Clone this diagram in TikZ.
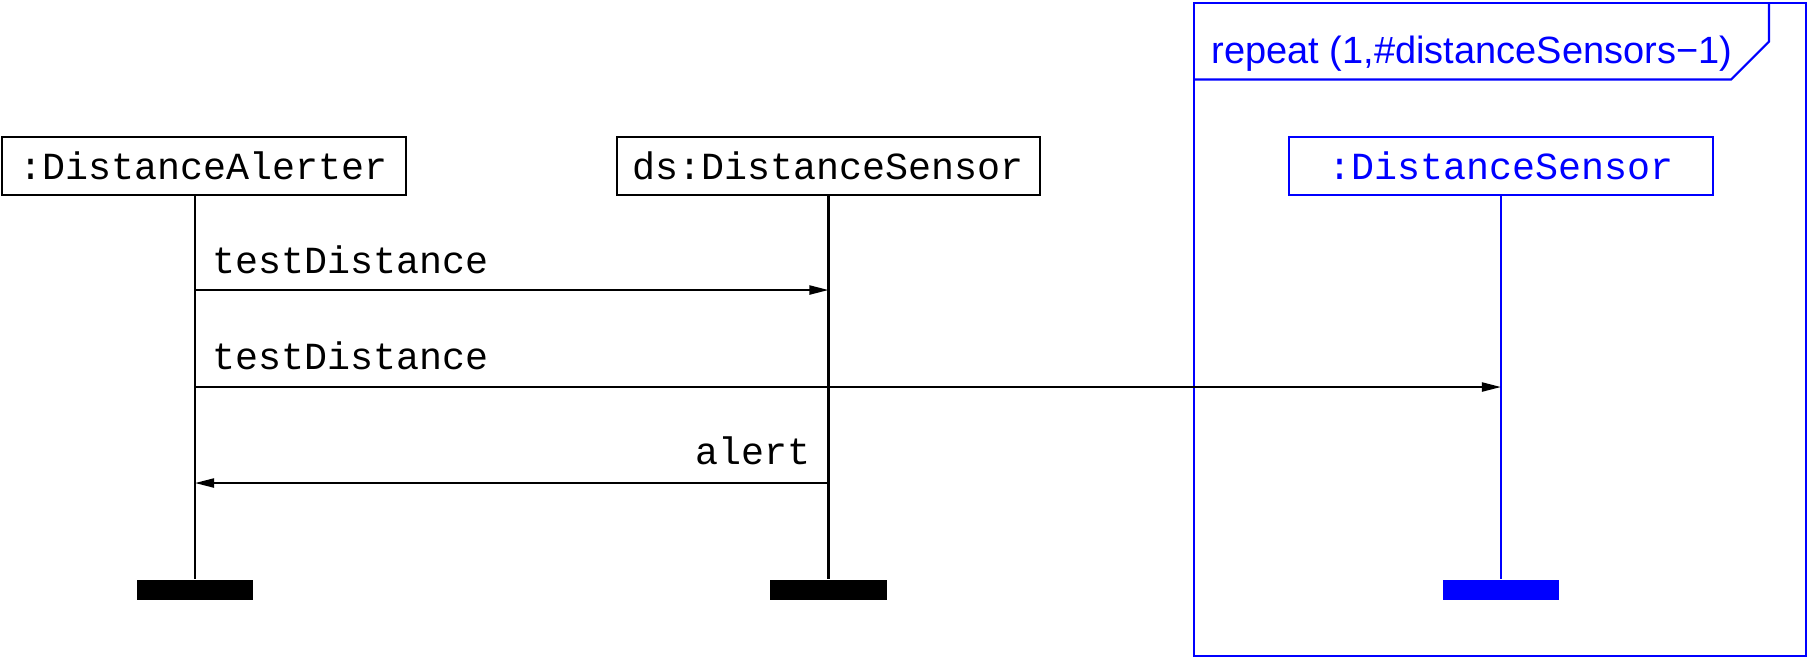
\documentclass[tikz,border=0pt]{standalone}
\usepackage{fontspec}
\setmonofont{Liberation Mono}
\setsansfont{Liberation Sans}
\usepackage{tikz}
\usetikzlibrary{arrows.meta,positioning}
\newcommand{\objfont}{\ttfamily\fontsize{10.9}{13}\selectfont}
\newcommand{\loopfont}{\sffamily\fontsize{10.8}{13}\selectfont}
\definecolor{umlblue}{RGB}{0, 0, 255}
\tikzstyle{obj} = [draw, line width=0.6pt, font=\objfont, minimum height=0.58cm, inner xsep=0pt]
\tikzstyle{endbar} = [fill, minimum width=1.16cm, minimum height=0.2cm, inner sep=0pt]
\tikzstyle{life} = [line width=0.6pt]
\tikzstyle{msg} = [draw, line width=0.6pt, -{Triangle[length=0.19cm,width=0.09cm]}]
\tikzstyle{lbl} = [font=\objfont, inner sep=0pt]
\begin{document}
\begin{tikzpicture}[x=0.01cm, y=-0.01cm]
\useasboundingbox (0,0) rectangle (1807,656);

% objects =============================
\node[obj, minimum width=4.04cm] (alerter) at (204,166) {:DistanceAlerter};
\node[obj, minimum width=4.22cm, right=2.09cm of alerter] (sensor) {ds:DistanceSensor};
\node[obj, minimum width=4.24cm, right=2.47cm of sensor, draw=umlblue, text=umlblue] (others) {:DistanceSensor};

\node[endbar, below=3.83cm of alerter, xshift=-0.09cm] (endA) {};
\node[endbar, below=3.83cm of sensor] (endS) {};
\node[endbar, below=3.83cm of others, fill=umlblue] (endO) {};

% lifelines
\draw[life] (endA |- alerter.south) -- (endA.north);
\draw[life] (endS |- sensor.south) -- (endS.north);
\draw[life, umlblue] (endO |- others.south) -- (endO.north);

% loop frame
\node[draw=umlblue, line width=0.6pt, minimum width=6.12cm, minimum height=6.53cm, anchor=north west] (frame) at (1193,2) {};
\draw[umlblue, line width=0.6pt] (frame.west |- 0,79.5) -- (1731,79.5) -- (1769,41.5) -- (1769,2);
\node[font=\loopfont, text=umlblue, anchor=base west, inner sep=0pt] (title) at (1211,63) {repeat (1,\#distanceSensors\textminus1)};

% messages
\coordinate (m1) at (0,290);
\coordinate (m2) at (0,387);
\coordinate (m3) at (0,483);
\path[msg] (endA |- m1) -- node[lbl, pos=0, anchor=base west, xshift=0.16cm, yshift=0.17cm] {testDistance} (endS |- m1);
\path[msg] (endA |- m2) -- node[lbl, pos=0, anchor=base west, xshift=0.16cm, yshift=0.18cm] {testDistance} (endO |- m2);
\path[msg] (endS |- m3) -- node[lbl, pos=0, anchor=base east, xshift=-0.17cm, yshift=0.19cm] {alert} (endA |- m3);

\end{tikzpicture}
\end{document}
